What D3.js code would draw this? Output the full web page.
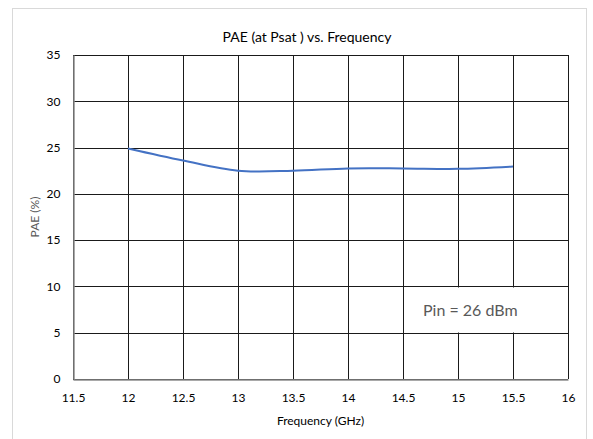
<!DOCTYPE html>
<html>
<head>
<meta charset="utf-8">
<script src="https://cdn.jsdelivr.net/npm/d3@7"></script>
<style>
  html, body { margin: 0; padding: 0; background: #fff; }
  svg { display: block; }
  text { font-family: Lato, "Liberation Sans", sans-serif; }
</style>
</head>
<body>
<svg id="chart" width="593" height="439"></svg>
<script>
// ---- data ----
const frequencies = [12, 12.5, 13, 13.5, 14, 14.5, 15, 15.5];
const paeValues   = [24.9, 23.6, 22.5, 22.5, 22.75, 22.75, 22.7, 22.95];
const xTicks = [11.5, 12, 12.5, 13, 13.5, 14, 14.5, 15, 15.5, 16];
const yTicks = [0, 5, 10, 15, 20, 25, 30, 35];
const chartTitle = "PAE (at Psat ) vs. Frequency";
const xTitle = "Frequency (GHz)";
const yTitle = "PAE (%)";
const annotation = "Pin = 26 dBm";

// ---- layout ----
const plot = { left: 73, right: 568, top: 55, bottom: 379 };

const svg = d3.select("#chart");

// outer border
svg.append("rect")
  .attr("x", 12.5).attr("y", 8.5)
  .attr("width", 574).attr("height", 440)
  .attr("fill", "#fff").attr("stroke", "#d9d9d9").attr("stroke-width", 1);

const x = d3.scaleLinear().domain([11.5, 16]).range([plot.left, plot.right]);
const y = d3.scaleLinear().domain([0, 35]).range([plot.bottom, plot.top]);

// gridlines
const grid = svg.append("g");
grid.selectAll("line.v").data(xTicks).join("line")
  .attr("class", "v")
  .attr("x1", d => Math.round(x(d)) + 0.5).attr("x2", d => Math.round(x(d)) + 0.5)
  .attr("y1", plot.top).attr("y2", plot.bottom)
  .attr("stroke", "#1a1a1a").attr("stroke-width", 1);
grid.selectAll("line.h").data(yTicks).join("line")
  .attr("class", "h")
  .attr("y1", d => Math.round(y(d)) + 0.5).attr("y2", d => Math.round(y(d)) + 0.5)
  .attr("x1", plot.left).attr("x2", plot.right)
  .attr("stroke", "#1a1a1a").attr("stroke-width", 1);

// axes lines (gray)
const xAxis = d3.axisBottom(x).tickValues(xTicks).tickSize(0).tickPadding(14)
  .tickFormat(d => String(d));
const gx = svg.append("g")
  .attr("transform", `translate(0,${Math.round(y(0)) + 0.5})`)
  .call(xAxis);
gx.select(".domain").attr("stroke", "#8c8c8c").attr("stroke-width", 1.5);
gx.selectAll("text").attr("font-size", 12).attr("fill", "#000");

const yAxis = d3.axisLeft(y).tickValues(yTicks).tickSize(0).tickPadding(13)
  .tickFormat(d => String(d));
const gy = svg.append("g")
  .attr("transform", `translate(${Math.round(x(11.5)) + 0.5},0)`)
  .call(yAxis);
gy.select(".domain").attr("stroke", "#8c8c8c").attr("stroke-width", 1.5);
gy.selectAll("text").attr("font-size", 12).attr("fill", "#000");

// data line
const line = d3.line()
  .x((d, i) => x(frequencies[i]))
  .y(d => y(d))
  .curve(d3.curveCatmullRom.alpha(0.5));
svg.append("path")
  .datum(paeValues)
  .attr("d", line)
  .attr("fill", "none")
  .attr("stroke", "#4472C4")
  .attr("stroke-width", 2);

// title
svg.append("text")
  .attr("x", 307).attr("y", 42)
  .attr("text-anchor", "middle")
  .attr("font-size", 14).attr("fill", "#000")
  .text(chartTitle);

// x title
svg.append("text")
  .attr("x", (plot.left + plot.right) / 2).attr("y", 425)
  .attr("text-anchor", "middle")
  .attr("font-size", 12).attr("fill", "#000")
  .text(xTitle);

// y title
svg.append("text")
  .attr("transform", `translate(39,${(plot.top + plot.bottom) / 2}) rotate(-90)`)
  .attr("text-anchor", "middle")
  .attr("font-size", 12).attr("fill", "#595959")
  .text(yTitle);

// annotation text box (white background hiding gridlines)
svg.append("rect")
  .attr("x", Math.round(x(14.5)) + 1.5)
  .attr("y", Math.round(y(10)) + 1.5)
  .attr("width", Math.round(x(16)) - Math.round(x(14.5)) - 2.5)
  .attr("height", Math.round(y(5)) - Math.round(y(10)) - 2)
  .attr("fill", "#fff");
svg.append("text")
  .attr("x", 423).attr("y", 316)
  .attr("font-size", 16).attr("fill", "#595959")
  .text(annotation);
</script>
</body>
</html>
